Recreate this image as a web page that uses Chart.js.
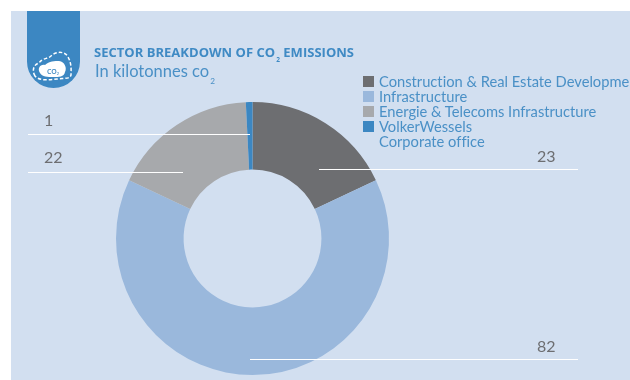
<!DOCTYPE html>
<html>
<head>
<meta charset="utf-8">
<title>Sector breakdown of CO2 emissions</title>
<script src="https://cdn.jsdelivr.net/npm/chart.js@4/dist/chart.umd.min.js"></script>
<style>
    html, body { margin: 0; padding: 0; background: #fff; overflow: hidden; }
    #page { position: relative; width: 630px; height: 380px; overflow: hidden; font-family: Lato, sans-serif; color: #4a90c6; font-variant-ligatures: none; }
    #panel { position: absolute; left: 11px; top: 11px; width: 619px; height: 369px; background: #d2dff0; }
    #emissionsChart { position: absolute; left: 0; top: 0; }
    #badge { position: absolute; left: 27px; top: 11px; }
    #title { position: absolute; left: 94px; top: 43px; font: 700 13px "Open Sans", sans-serif; letter-spacing: 0.02px; white-space: nowrap; color: #3f8ac4; }
    #subtitle { position: absolute; left: 95px; top: 61px; font-size: 16.5px; white-space: nowrap; }
    sub { font-size: 50%; line-height: 0; vertical-align: -0.8em; margin-left: 1px; }
    #legend { position: absolute; left: 363px; top: 74px; font-size: 14.7px; line-height: 15px; white-space: nowrap; }
    #legend div { height: 15px; position: relative; padding-left: 16px; }
    #legend i { position: absolute; left: 0; top: 2px; width: 11px; height: 11px; }
</style>
</head>
<body>
<div id="page">
    <div id="panel"></div>
    <canvas id="emissionsChart" width="630" height="380"></canvas>
    <svg id="badge" width="53" height="77" viewBox="0 0 53 77">
        <path d="M0 0H53V50.5A26.5 26.5 0 0 1 0 50.5Z" fill="#3c87c2"/>
        <path d="M8 65C5 60 6 54 12 52C15 47 21 48 24 45C29 40 38 40 41 46C45 53 44 60 44 64C43 68 38 67 30 68C22 69 12 70 8 65Z" fill="none" stroke="#fff" stroke-width="1.5" stroke-dasharray="3.5 2"/>
        <path d="M13 62C10 58 13 53 18 54C22 50 28 50 32 50C38 51 40 57 38 61C37 66 32 66 26 66C21 66 15 66 13 62Z" fill="#fff"/>
        <text x="26" y="63" text-anchor="middle" font-family="Open Sans, sans-serif" font-size="7" font-weight="600" fill="#3c87c2">CO<tspan font-size="4" dy="1">2</tspan></text>
    </svg>
    <div id="title">SECTOR BREAKDOWN OF CO<sub>2</sub> EMISSIONS</div>
    <div id="subtitle">In kilotonnes co<sub>2</sub></div>
    <div id="legend"></div>
</div>
<script>
const sectors = ['Construction & Real Estate Development', 'Infrastructure', 'Energie & Telecoms Infrastructure', 'VolkerWessels'];
const emissions = [23, 82, 22, 1];
const sectorColors = ['#6d6e71', '#9ab8dc', '#a7a9ac', '#3c87c2'];

// white rules running from each value label into its slice
const leaders = [
    { x1: 319, x2: 578, y: 169, textX: 537, textY: 157 },
    { x1: 250, x2: 578, y: 359, textX: 537, textY: 347 },
    { x1: 28, x2: 183, y: 172, textX: 44, textY: 158 },
    { x1: 28, x2: 250, y: 134, textX: 44, textY: 121 }
];

const leaderPlugin = {
    id: 'leaders',
    afterDraw(chart) {
        const ctx = chart.ctx;
        const values = chart.data.datasets[0].data;
        ctx.save();
        ctx.strokeStyle = '#fff';
        ctx.lineWidth = 1;
        ctx.fillStyle = '#6d6e71';
        ctx.font = '16px Lato, sans-serif';
        ctx.textBaseline = 'middle';
        leaders.forEach((l, i) => {
            ctx.beginPath();
            ctx.moveTo(l.x1, l.y + 0.5);
            ctx.lineTo(l.x2, l.y + 0.5);
            ctx.stroke();
            ctx.fillText(String(values[i]), l.textX, l.textY);
        });
        ctx.restore();
    }
};

// legend is plain html, the last entry wraps onto a second line
const legend = document.getElementById('legend');
sectors.forEach((name, i) => {
    const row = document.createElement('div');
    row.innerHTML = '<i style="background:' + sectorColors[i] + '"></i>';
    row.appendChild(document.createTextNode(name));
    legend.appendChild(row);
});
const lastRow = document.createElement('div');
lastRow.textContent = 'Corporate office';
legend.appendChild(lastRow);

new Chart(document.getElementById('emissionsChart'), {
    type: 'doughnut',
    data: {
        labels: sectors,
        datasets: [{
            data: emissions,
            backgroundColor: sectorColors,
            borderWidth: 0
        }]
    },
    options: {
        responsive: false,
        animation: false,
        cutout: '50.5%',
        layout: { padding: { left: 116, right: 241, top: 102, bottom: 5 } },
        plugins: {
            legend: { display: false },
            tooltip: { enabled: false }
        }
    },
    plugins: [leaderPlugin]
});
</script>
</body>
</html>
